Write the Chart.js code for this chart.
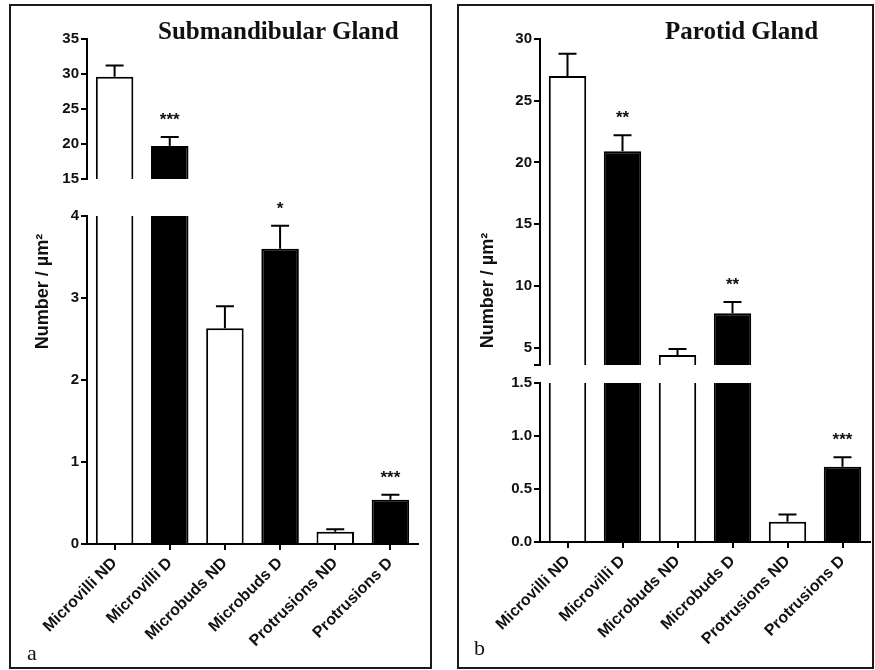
<!DOCTYPE html>
<html>
<head>
<meta charset="utf-8">
<script src="https://cdn.jsdelivr.net/npm/chart.js@4.4.1/dist/chart.umd.min.js"></script>
<style>
  body { margin: 0; background: #fff; width: 875px; height: 670px; position: relative; overflow: hidden; }
  .box { position: absolute; box-sizing: border-box; border: 2px solid #1a1a1a; }
  canvas { position: absolute; top: 0; }
  .title { position: absolute; font-family: "Liberation Serif", "Times New Roman", serif; font-weight: bold; font-size: 25px; line-height: 25px; color: #111; white-space: nowrap; }
  .letter { position: absolute; font-family: "Liberation Serif", "Times New Roman", serif; font-size: 22px; line-height: 22px; color: #111; }
</style>
</head>
<body>
<div class="box" style="left:9px; top:4px; width:423px; height:665px;"></div>
<div class="box" style="left:457px; top:4px; width:417px; height:665px;"></div>
<canvas id="chartSub" width="435" height="670" style="left:0px"></canvas>
<canvas id="chartPar" width="440" height="670" style="left:435px"></canvas>
<div class="title" style="left:158px; top:18px;">Submandibular Gland</div>
<div class="title" style="left:665px; top:18px;">Parotid Gland</div>
<div class="letter" style="left:27px; top:642px;">a</div>
<div class="letter" style="left:474px; top:637px;">b</div>

<script>
// Datos
const categories = ['Microvilli ND', 'Microvilli D', 'Microbuds ND', 'Microbuds D', 'Protrusions ND', 'Protrusions D'];
const barColors = ['#ffffff', '#000000', '#ffffff', '#000000', '#ffffff', '#000000'];

// a) Submandibular
const subValues = [29.6, 19.7, 2.63, 3.60, 0.15, 0.54];
const subErrors = [1.6, 1.3, 0.27, 0.28, 0.03, 0.06];
const subStars = ['', '***', '', '*', '', '***'];
const subTopTicks = [15, 20, 25, 30, 35];
const subBottomTicks = [0, 1, 2, 3, 4];

// b) Parotid (el eje superior corta en 3.6)
const parValues = [27.0, 20.9, 4.4, 7.8, 0.19, 0.71];
const parErrors = [1.8, 1.3, 0.5, 0.9, 0.07, 0.09];
const parStars = ['', '**', '', '**', '', '***'];
const parTopTicks = [3.6, 5, 10, 15, 20, 25, 30];
const parBottomTicks = [0, 0.5, 1, 1.5];

const sansFont = '"Liberation Sans", Arial, sans-serif';

function yAxis(ticks, weight, stackWeight, fmt) {
    return {
        type: 'linear',
        position: 'left',
        stack: 'panel',
        stackWeight: stackWeight,
        weight: weight,
        min: ticks[0],
        max: ticks[ticks.length - 1],
        grid: { drawOnChartArea: false, tickLength: 6, color: '#000', lineWidth: 2 },
        border: { color: '#000', width: 2 },
        ticks: {
            color: '#111',
            padding: 2,
            font: { family: sansFont, size: 15, weight: 'bold' },
            callback: fmt
        },
        afterBuildTicks: s => { s.ticks = ticks.map(v => ({ value: v })); },
        afterFit: s => { s.width = 50; }
    };
}

function gapAxis(stackWeight) {
    return {
        type: 'linear',
        position: 'left',
        stack: 'panel',
        stackWeight: stackWeight,
        weight: 2,
        min: 0,
        max: 1,
        grid: { display: false },
        border: { display: false },
        ticks: { display: false }
    };
}

function buildPanel(canvasId, values, errors, stars, topTicks, bottomTicks, weights, pad, xHeight, titleX, fmtTop, fmtBottom) {
    const topData = values.map(v => v > topTicks[0] ? v : null);

    const errorBars = {
        id: 'errorBars',
        afterDatasetsDraw(chart) {
            const ctx = chart.ctx;
            ctx.save();
            ctx.strokeStyle = '#000';
            ctx.lineWidth = 2;
            ctx.fillStyle = '#111';
            ctx.font = 'bold 17px ' + sansFont;
            ctx.textAlign = 'center';
            chart.data.datasets.forEach((ds, i) => {
                const meta = chart.getDatasetMeta(i);
                const y = chart.scales[ds.yAxisID];
                meta.data.forEach((bar, j) => {
                    const v = ds.data[j];
                    if (v === null) return;
                    const top = v + errors[j];
                    if (v < y.min || top > y.max) return;
                    const y0 = y.getPixelForValue(v);
                    const y1 = y.getPixelForValue(top);
                    ctx.beginPath();
                    ctx.moveTo(bar.x, y0);
                    ctx.lineTo(bar.x, y1);
                    ctx.moveTo(bar.x - 9, y1);
                    ctx.lineTo(bar.x + 9, y1);
                    ctx.stroke();
                    if (stars[j]) ctx.fillText(stars[j], bar.x, y1 - 12);
                });
            });
            ctx.restore();
        }
    };

    const yTitle = {
        id: 'yTitle',
        afterDraw(chart) {
            const ctx = chart.ctx;
            const a = chart.chartArea;
            ctx.save();
            ctx.translate(titleX, (a.top + a.bottom) / 2);
            ctx.rotate(-Math.PI / 2);
            ctx.font = 'bold 18px ' + sansFont;
            ctx.fillStyle = '#111';
            ctx.textAlign = 'center';
            ctx.textBaseline = 'middle';
            ctx.fillText('Number / µm²', 0, 0);
            ctx.restore();
        }
    };

    const barStyle = {
        backgroundColor: barColors,
        borderColor: '#000',
        borderWidth: 2,
        grouped: false,
        clip: 0,
        barPercentage: 0.68,
        categoryPercentage: 1
    };

    new Chart(document.getElementById(canvasId), {
        type: 'bar',
        data: {
            labels: categories,
            datasets: [
                Object.assign({ data: topData, yAxisID: 'yTop' }, barStyle),
                Object.assign({ data: values, yAxisID: 'yBottom' }, barStyle)
            ]
        },
        options: {
            responsive: false,
            animation: false,
            layout: { padding: pad },
            plugins: {
                legend: { display: false },
                tooltip: { enabled: false },
                title: { display: false }
            },
            scales: {
                x: {
                    grid: { offset: false, drawOnChartArea: false, tickLength: 6, color: '#000', lineWidth: 2 },
                    border: { color: '#000', width: 2 },
                    ticks: {
                        color: '#111',
                        autoSkip: false,
                        minRotation: 45,
                        maxRotation: 45,
                        padding: 4,
                        font: { family: sansFont, size: 16, weight: 'bold' }
                    },
                    afterFit: s => { s.height = xHeight; }
                },
                yTop: yAxis(topTicks, 3, weights[0], fmtTop),
                yGap: gapAxis(weights[1]),
                yBottom: yAxis(bottomTicks, 1, weights[2], fmtBottom)
            }
        },
        plugins: [errorBars, yTitle]
    });
}

buildPanel('chartSub', subValues, subErrors, subStars, subTopTicks, subBottomTicks,
    [140, 37, 328], { left: 37, right: 17, top: 39, bottom: 0 }, 126, 43,
    v => v, v => v);

buildPanel('chartPar', parValues, parErrors, parStars, parTopTicks, parBottomTicks,
    [326, 18, 159], { left: 55, right: 5, top: 39, bottom: 0 }, 128, 53,
    v => (v % 5 === 0 ? v : ''), v => v.toFixed(1));
</script>
</body>
</html>
